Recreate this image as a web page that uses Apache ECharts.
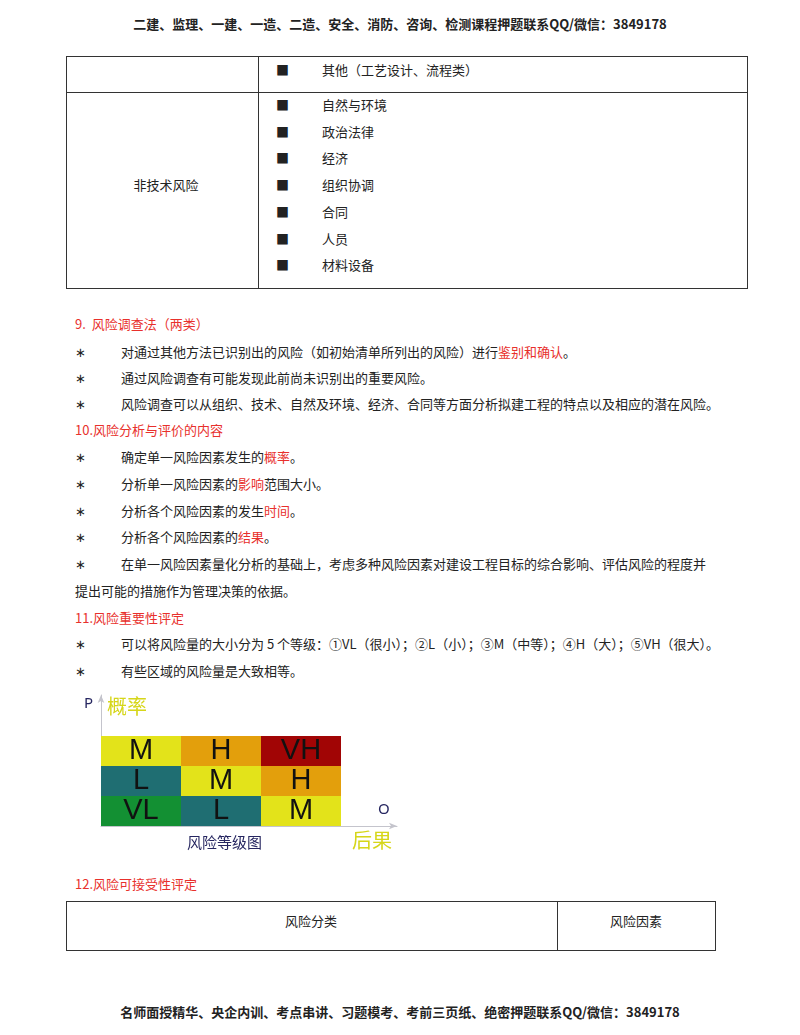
<!DOCTYPE html>
<html><head><meta charset="utf-8">
<script src="https://cdn.jsdelivr.net/npm/echarts@6/dist/echarts.min.js"></script>
<style>
body{margin:0;width:800px;height:1035px;background:#fff;position:relative;font-family:"Noto Sans CJK SC",sans-serif;color:#222;overflow:hidden}
.t{position:absolute;font-size:13px;line-height:18px;white-space:nowrap}
.r{color:#e8302c}
.ln{position:absolute;background:#333}
</style></head><body>
<div id="chart" style="position:absolute;left:60px;top:690px;width:350px;height:170px"></div>
<script>
// ---- data ----
const colLabels = ['低','中','高'];          // consequence levels (x)
const rowLabels = ['低','中','高'];          // probability levels (y)
const cellLevels = [                       // [x, y, level]
  [0,0,'VL'],[1,0,'L'],[2,0,'M'],
  [0,1,'L'],[1,1,'M'],[2,1,'H'],
  [0,2,'M'],[1,2,'H'],[2,2,'VH']
];
const levelColors = {VL:'#139033',L:'#1f6e72',M:'#e3e31a',H:'#e39f0c',VH:'#a10505'};

function t(x,y,html,cls,extra){
  const d=document.createElement('div');d.className='t '+(cls||'');
  d.style.left=x+'px';d.style.top=(y-9)+'px';d.innerHTML=html;
  if(extra)Object.assign(d.style,extra);document.body.appendChild(d);return d;
}
function L(x,y,w,h){const d=document.createElement('div');d.className='ln';
  Object.assign(d.style,{left:x+'px',top:y+'px',width:w+'px',height:h+'px'});document.body.appendChild(d);}
function C(x,y,html,cls,extra){const d=t(0,y,html,cls,extra);d.style.left='0';d.style.width='800px';d.style.textAlign='center';return d;}
function Cx(cx,y,html){const d=t(cx-100,y,html);d.style.width='200px';d.style.textAlign='center';}

C(0,24,'二建、监理、一建、一造、二造、安全、消防、咨询、检测课程押题联系QQ/微信：3849178','',{fontWeight:'bold'});
// top table
L(66,56,682,1);L(66,92,682,1);L(66,288,682,1);L(66,56,1,233);L(258,56,1,233);L(747,56,1,233);
const items=[[70,'其他（工艺设计、流程类）'],[105,'自然与环境'],[132,'政治法律'],[158,'经济'],[185,'组织协调'],[212,'合同'],[239,'人员'],[265,'材料设备']];
items.forEach(([y,s])=>{t(276,y,'■');t(322,y,s);});
Cx(166,185,'非技术风险');

t(75,324,'9.&nbsp; 风险调查法（两类）','r');
const star=(y,s)=>{t(75,y,'∗');t(121,y,s);};
star(352,'对通过其他方法已识别出的风险（如初始清单所列出的风险）进行<span class="r">鉴别和确认</span>。');
star(378,'通过风险调查有可能发现此前尚未识别出的重要风险。');
star(404,'风险调查可以从组织、技术、自然及环境、经济、合同等方面分析拟建工程的特点以及相应的潜在风险。');
t(75,430,'10.风险分析与评价的内容','r');
star(457,'确定单一风险因素发生的<span class="r">概率</span>。');
star(484,'分析单一风险因素的<span class="r">影响</span>范围大小。');
star(511,'分析各个风险因素的发生<span class="r">时间</span>。');
star(537,'分析各个风险因素的<span class="r">结果</span>。');
star(564,'在单一风险因素量化分析的基础上，考虑多种风险因素对建设工程目标的综合影响、评估风险的程度并');
t(75,591,'提出可能的措施作为管理决策的依据。');
t(75,618,'11.风险重要性评定','r');
star(644,'可以将风险量的大小分为 5 个等级：①VL（很小）；②L（小）；③M（中等）；④H（大）；⑤VH（很大）。');
star(671,'有些区域的风险量是大致相等。');
t(75,884,'12.风险可接受性评定','r');
L(66,901,650,1);L(66,950,650,1);L(66,901,1,50);L(557,901,1,50);L(715,901,1,50);
Cx(311,921,'风险分类');Cx(636,921,'风险因素');
C(0,1012,'名师面授精华、央企内训、考点串讲、习题模考、考前三页纸、绝密押题联系QQ/微信：3849178','',{fontWeight:'bold'});

// ---- chart ----
const ch=echarts.init(document.getElementById('chart'));
ch.setOption({
  animation:false,
  grid:{left:41,top:5,width:296,height:131},
  xAxis:{type:'value',min:0,max:3.7,axisLine:{show:true,lineStyle:{color:'#c4c4cc'},symbol:['none','arrow'],symbolSize:[5,8]},axisTick:{show:false},axisLabel:{show:false},splitLine:{show:false}},
  yAxis:{type:'value',min:0,max:4.37,axisLine:{show:true,lineStyle:{color:'#c4c4cc'},symbol:['none','arrow'],symbolSize:[5,8]},axisTick:{show:false},axisLabel:{show:false},splitLine:{show:false}},
  graphic:[
    {type:'text',left:24,top:6,style:{text:'P',font:'15px "Noto Sans"',fill:'#262660'}},
    {type:'text',left:47,top:6,style:{text:'概率',font:'20px "Noto Sans CJK SC"',fill:'#d6d619'}},
    {type:'text',left:318,top:112,style:{text:'O',font:'15px "Noto Sans"',fill:'#262660'}},
    {type:'text',left:292,top:140,style:{text:'后果',font:'20px "Noto Sans CJK SC"',fill:'#d6d619'}},
    {type:'text',left:127,top:145,style:{text:'风险等级图',font:'15px "Noto Sans CJK SC"',fill:'#262660'}}
  ],
  series:[{
    type:'custom',
    data:cellLevels,
    renderItem:(p,api)=>{
      const x=api.value(0),y=api.value(1),lv=cellLevels[p.dataIndex][2];
      const a=api.coord([x,y+1]),b=api.coord([x+1,y]);
      return {type:'rect',shape:{x:a[0],y:a[1],width:b[0]-a[0],height:b[1]-a[1]},
        style:{fill:levelColors[lv]},
        textContent:{style:{text:lv,font:'29px "Liberation Sans"',fill:'#111'}},
        textConfig:{position:'inside'}};
    }
  }]
});
</script></body></html>
